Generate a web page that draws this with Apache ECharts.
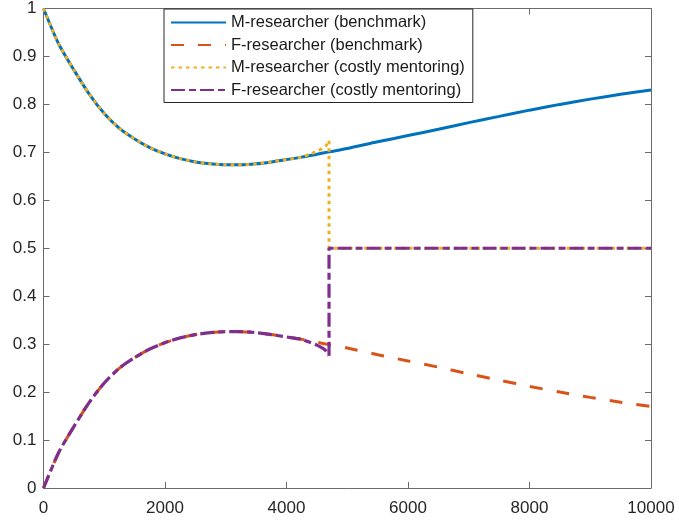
<!DOCTYPE html>
<html>
<head>
<meta charset="utf-8">
<title>Researcher shares</title>
<script src="https://cdn.jsdelivr.net/npm/echarts@6/dist/echarts.min.js"></script>
<style>
  html, body { margin: 0; padding: 0; background: #ffffff; }
  #chart { width: 679px; height: 520px; }
</style>
</head>
<body>
<div id="chart"></div>
<script>
// Time grid for the benchmark paths
const xBench = [0, 250, 500, 750, 1000, 1250, 1500, 1750, 2000, 2250, 2500, 2750, 3000, 3250, 3500,
  3750, 4000, 4250, 4500, 4700, 5000, 5500, 6000, 6500, 7000, 7500, 8000, 8500, 9000, 9500, 10000];
const mBench = [1.000, 0.926, 0.872, 0.822, 0.781, 0.750, 0.728, 0.710, 0.697, 0.687, 0.680, 0.676, 0.674, 0.674, 0.676,
  0.680, 0.685, 0.690, 0.696, 0.701, 0.708, 0.722, 0.735, 0.748, 0.762, 0.775, 0.788, 0.800, 0.811, 0.821, 0.830];
const fBench = [0.000, 0.074, 0.128, 0.178, 0.219, 0.250, 0.272, 0.290, 0.303, 0.313, 0.320, 0.324, 0.326, 0.326, 0.324,
  0.320, 0.315, 0.310, 0.304, 0.299, 0.292, 0.278, 0.265, 0.252, 0.238, 0.225, 0.212, 0.200, 0.189, 0.179, 0.170];

// Costly-mentoring paths up to the switch point
const xCostly = [0, 250, 500, 750, 1000, 1250, 1500, 1750, 2000, 2250, 2500, 2750, 3000, 3250, 3500,
  3750, 4000, 4250, 4400, 4500, 4600, 4650, 4700];
const mCostly = [1.000, 0.926, 0.872, 0.822, 0.781, 0.750, 0.728, 0.710, 0.697, 0.687, 0.680, 0.676, 0.674, 0.674, 0.676,
  0.680, 0.685, 0.690, 0.697, 0.702, 0.709, 0.714, 0.724];
const fCostly = [0.000, 0.074, 0.128, 0.178, 0.219, 0.250, 0.272, 0.290, 0.303, 0.313, 0.320, 0.324, 0.326, 0.326, 0.324,
  0.320, 0.315, 0.310, 0.303, 0.298, 0.291, 0.286, 0.276];

// After the switch both groups sit at the plateau
const switchX = 4700;
const endX = 10000;
const plateau = 0.5;

const xTickLabels = ['0', '2000', '4000', '6000', '8000', '10000'];
const yTickLabels = ['0', '0.1', '0.2', '0.3', '0.4', '0.5', '0.6', '0.7', '0.8', '0.9', '1'];

const names = [
  'M-researcher (benchmark)',
  'F-researcher (benchmark)',
  'M-researcher (costly mentoring)',
  'F-researcher (costly mentoring)'
];
const colors = ['#0072BD', '#D95319', '#EDB120', '#7E2F8E'];

const zip = (xs, ys) => xs.map((x, i) => [x, ys[i]]);

const FONT = '"Liberation Sans", Arial, Helvetica, sans-serif';
const AXIS_COLOR = '#6b6b6b';

function xAxisDef(pos) {
  return {
    type: 'value', position: pos, min: 0, max: 10000, interval: 2000,
    axisLine: { show: true, onZero: false, lineStyle: { color: AXIS_COLOR, width: 1 } },
    axisTick: { show: true, inside: true, length: 6, lineStyle: { color: AXIS_COLOR } },
    axisLabel: {
      show: pos === 'bottom', margin: 12, fontSize: 17, color: '#262626', fontFamily: FONT,
      formatter: v => xTickLabels[Math.round(v / 2000)]
    },
    splitLine: { show: false }
  };
}
function yAxisDef(pos) {
  return {
    type: 'value', position: pos, min: 0, max: 1, interval: 0.1,
    axisLine: { show: true, onZero: false, lineStyle: { color: AXIS_COLOR, width: 1 } },
    axisTick: { show: true, inside: true, length: 6, lineStyle: { color: AXIS_COLOR } },
    axisLabel: {
      show: pos === 'left', margin: 7, fontSize: 17, color: '#262626', fontFamily: FONT,
      formatter: v => yTickLabels[Math.round(v * 10)]
    },
    splitLine: { show: false }
  };
}

function lineSeries(name, color, data, dash, width, smooth) {
  return {
    name, type: 'line', data, xAxisIndex: 0, yAxisIndex: 0,
    showSymbol: false, symbol: 'none', smooth: smooth ? 0.25 : false,
    lineStyle: { color, width, type: dash, cap: 'butt' },
    itemStyle: { color },
    emphasis: { disabled: true }
  };
}

const chart = echarts.init(document.getElementById('chart'), null, { renderer: 'canvas' });
chart.setOption({
  animation: false,
  backgroundColor: '#ffffff',
  grid: { left: 43.5, right: 28, top: 8, bottom: 32 },
  xAxis: [xAxisDef('bottom'), xAxisDef('top')],
  yAxis: [yAxisDef('left'), yAxisDef('right')],
  legend: {
    data: names,
    orient: 'vertical', left: 164, top: 9,
    align: 'left',
    itemWidth: 55, itemHeight: 12, itemGap: 5.5,
    padding: [5, 8, 4, 6],
    backgroundColor: '#ffffff',
    borderColor: '#262626', borderWidth: 1,
    // legend keys show only the line sample, no marker
    itemStyle: { opacity: 0, borderWidth: 0 },
    textStyle: { fontSize: 16.5, color: '#1a1a1a', fontFamily: FONT },
    selectedMode: false
  },
  series: [
    lineSeries(names[0], colors[0], zip(xBench, mBench), 'solid', 3, true),
    lineSeries(names[1], colors[1], zip(xBench, fBench), [13, 14], 3, true),
    lineSeries(names[2], colors[2], zip(xCostly, mCostly), [3.5, 4], 3, true),
    lineSeries(names[2], colors[2], [[switchX, mCostly[mCostly.length - 1]], [switchX, plateau], [endX, plateau]], [3.5, 4], 3, false),
    lineSeries(names[3], colors[3], zip(xCostly, fCostly), [14, 4, 7, 4], 3.2, true),
    lineSeries(names[3], colors[3], [[switchX, fCostly[fCostly.length - 1]], [switchX, plateau], [endX, plateau]], [14, 4, 7, 4], 3.2, false)
  ]
});
</script>
</body>
</html>
